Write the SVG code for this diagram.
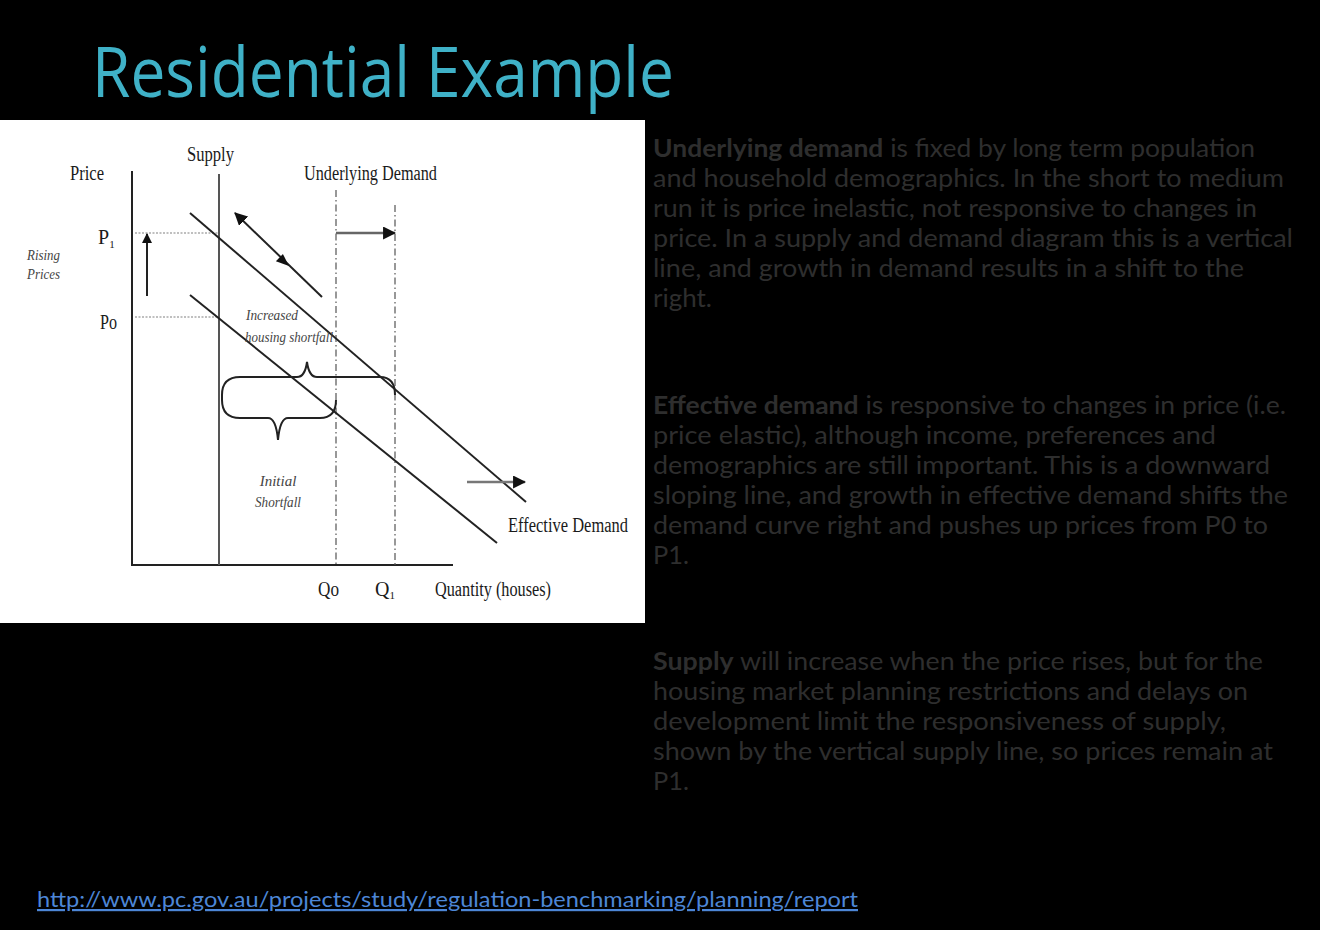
<svg xmlns="http://www.w3.org/2000/svg" width="1320" height="930" viewBox="0 0 1320 930">
<style>
.serif{font-family:"Liberation Serif","DejaVu Serif",serif;fill:#1a1a1a;font-size:20px}
.it{font-family:"Liberation Serif","DejaVu Serif",serif;font-style:italic;fill:#444;font-size:15px}
.body{font-family:Lato,"Open Sans","Liberation Sans",sans-serif;fill:#2e2e2e;font-size:25px}
.b{font-weight:bold}
.ax{stroke:#222;stroke-width:2;fill:none}
.dem{stroke:#222;stroke-width:2;fill:none}
.dot{stroke:#aaa;stroke-width:1.5;stroke-dasharray:2 1.5;fill:none}
.dash{stroke:#777;stroke-width:1.5;stroke-dasharray:7 3 1.5 3;fill:none}
</style>
<defs>
<marker id="ah" viewBox="0 0 10 10" refX="9" refY="5" markerWidth="10" markerHeight="10" markerUnits="userSpaceOnUse" orient="auto">
<path d="M0,0 L10,5 L0,10 z" fill="#111"/>
</marker>
<marker id="ahL" viewBox="0 0 12 12" refX="11" refY="6" markerWidth="13" markerHeight="13" markerUnits="userSpaceOnUse" orient="auto">
<path d="M0,0 L12,6 L0,12 z" fill="#111"/>
</marker>
</defs>
<rect x="0" y="0" width="1320" height="930" fill="#000"/>
<text x="92" y="97" font-family="'Open Sans','Noto Sans',sans-serif" font-size="70" fill="#3fb1c7" textLength="582" lengthAdjust="spacingAndGlyphs">Residential Example</text>

<g id="chart">
<rect x="0" y="120" width="645" height="503" fill="#fff"/>
<g id="axes">
<path class="ax" d="M132,171 L132,565 L453,565"/>
<line x1="219" y1="174" x2="219" y2="565" stroke="#555" stroke-width="2"/>
<line class="dot" x1="135" y1="233" x2="218" y2="233"/>
<line class="dot" x1="135" y1="317" x2="218" y2="317"/>
<line class="dash" x1="336" y1="190" x2="336" y2="565"/>
<line class="dash" x1="395" y1="205" x2="395" y2="565"/>
</g>
<g id="curves">
<line class="dem" x1="190" y1="213" x2="526" y2="502"/>
<line class="dem" x1="190" y1="295" x2="497" y2="543"/>
<path d="M222,395 Q222,377 240,377 L297,377 Q305,377 307,362 Q309,377 317,377 L380,377 Q395,377 395,395" stroke="#222" stroke-width="2" fill="none"/>
<path d="M222,395 L222,400 Q222,418 240,418 L268,418 Q276,418 278,440 Q280,418 288,418 L320,418 Q336,418 336,400" stroke="#222" stroke-width="2" fill="none"/>
</g>
<g id="connectors">
<line x1="147" y1="296" x2="147" y2="234" stroke="#222" stroke-width="2" marker-end="url(#ah)"/>
<line x1="322" y1="297" x2="235" y2="213" stroke="#222" stroke-width="2" marker-end="url(#ahL)"/>
<polygon points="289,266 282.9,254.1 275.9,261.3" fill="#111"/>
<line x1="336" y1="233" x2="395" y2="233" stroke="#666" stroke-width="2.5" marker-end="url(#ahL)"/>
<line x1="467" y1="482" x2="525" y2="482" stroke="#777" stroke-width="2.5" marker-end="url(#ahL)"/>
</g>
<g id="labels">
<text class="serif" x="70" y="180" textLength="34" lengthAdjust="spacingAndGlyphs">Price</text>
<text class="serif" x="187" y="161" textLength="47" lengthAdjust="spacingAndGlyphs">Supply</text>
<text class="serif" x="304" y="180" textLength="133" lengthAdjust="spacingAndGlyphs">Underlying Demand</text>
<text class="serif" x="98" y="244">P<tspan font-size="11" dy="4">1</tspan></text>
<text class="serif" x="100" y="329" textLength="17" lengthAdjust="spacingAndGlyphs">Po</text>
<text class="it" x="27" y="260" textLength="33" lengthAdjust="spacingAndGlyphs">Rising</text>
<text class="it" x="27" y="279" textLength="33" lengthAdjust="spacingAndGlyphs">Prices</text>
<text class="it" x="246" y="320" textLength="52" lengthAdjust="spacingAndGlyphs">Increased</text>
<text class="it" x="245" y="342" textLength="88" lengthAdjust="spacingAndGlyphs">housing shortfall</text>
<text class="it" x="278" y="486" text-anchor="middle">Initial</text>
<text class="it" x="278" y="507" text-anchor="middle" textLength="46" lengthAdjust="spacingAndGlyphs">Shortfall</text>
<text class="serif" x="508" y="532" textLength="120" lengthAdjust="spacingAndGlyphs">Effective Demand</text>
<text class="serif" x="318" y="596" textLength="21" lengthAdjust="spacingAndGlyphs">Qo</text>
<text class="serif" x="375" y="596">Q<tspan font-size="11" dy="3">1</tspan></text>
<text class="serif" x="435" y="596" textLength="116" lengthAdjust="spacingAndGlyphs">Quantity (houses)</text>
</g>
</g>

<g id="text-underlying">
<text class="body" x="653" y="157" textLength="602" lengthAdjust="spacingAndGlyphs"><tspan class="b">Underlying demand</tspan> is fixed by long term population</text>
<text class="body" x="653" y="187" textLength="631" lengthAdjust="spacingAndGlyphs">and household  demographics.  In the short to medium</text>
<text class="body" x="653" y="217" textLength="604" lengthAdjust="spacingAndGlyphs">run it is price inelastic, not responsive to changes in</text>
<text class="body" x="653" y="247" textLength="640" lengthAdjust="spacingAndGlyphs">price. In a supply and demand diagram this is a vertical</text>
<text class="body" x="653" y="277" textLength="591" lengthAdjust="spacingAndGlyphs">line, and growth in demand results in a shift to the</text>
<text class="body" x="653" y="307" textLength="59" lengthAdjust="spacingAndGlyphs">right.</text>
</g>
<g id="text-effective">
<text class="body" x="653" y="414" textLength="633" lengthAdjust="spacingAndGlyphs"><tspan class="b">Effective demand</tspan> is responsive to changes in price (i.e.</text>
<text class="body" x="653" y="444" textLength="563" lengthAdjust="spacingAndGlyphs">price elastic), although income, preferences and</text>
<text class="body" x="653" y="474" textLength="617" lengthAdjust="spacingAndGlyphs">demographics  are still important. This is a downward</text>
<text class="body" x="653" y="504" textLength="635" lengthAdjust="spacingAndGlyphs">sloping line, and growth in effective demand shifts the</text>
<text class="body" x="653" y="534" textLength="615" lengthAdjust="spacingAndGlyphs">demand curve right and pushes up prices from P0 to</text>
<text class="body" x="653" y="564" textLength="36" lengthAdjust="spacingAndGlyphs">P1.</text>
</g>
<g id="text-supply">
<text class="body" x="653" y="670" textLength="610" lengthAdjust="spacingAndGlyphs"><tspan class="b">Supply</tspan> will increase when the price rises, but for the</text>
<text class="body" x="653" y="700" textLength="595" lengthAdjust="spacingAndGlyphs">housing market planning restrictions and delays on</text>
<text class="body" x="653" y="730" textLength="573" lengthAdjust="spacingAndGlyphs">development limit  the responsiveness of  supply,</text>
<text class="body" x="653" y="760" textLength="620" lengthAdjust="spacingAndGlyphs">shown by the vertical supply line, so prices remain at</text>
<text class="body" x="653" y="790" textLength="36" lengthAdjust="spacingAndGlyphs">P1.</text>
</g>
<text id="link" x="37" y="907" font-family="Lato,'Open Sans',sans-serif" font-size="22" fill="#4d86d6" text-decoration="underline" textLength="821" lengthAdjust="spacingAndGlyphs">http://www.pc.gov.au/projects/study/regulation-benchmarking/planning/report</text>
</svg>
